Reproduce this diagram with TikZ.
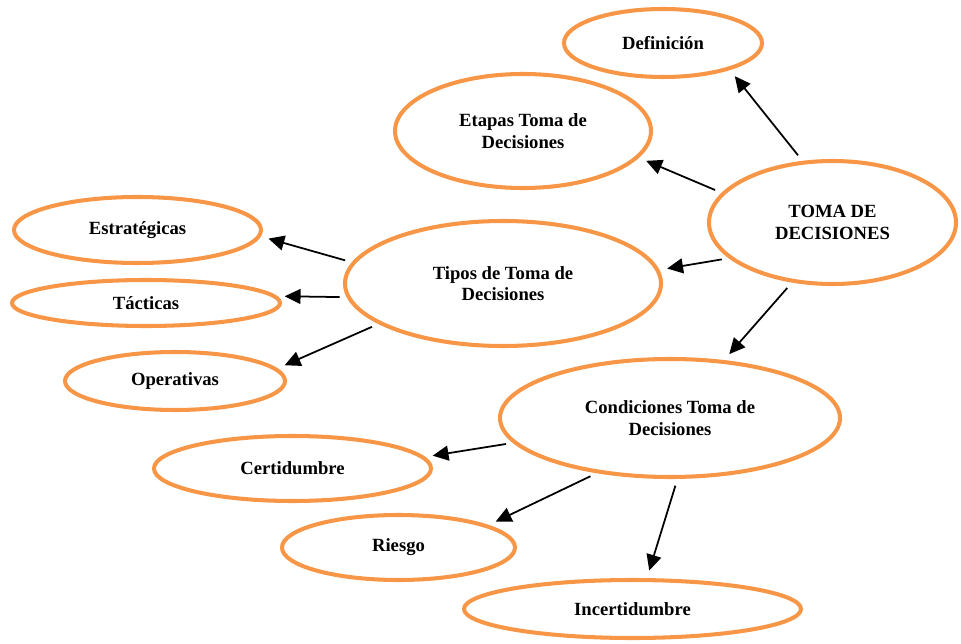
\documentclass[tikz,border=0pt]{standalone}
\usepackage{fontspec}
\setmainfont{Liberation Serif}
\usetikzlibrary{shapes.geometric,arrows.meta}
\definecolor{naranja}{RGB}{247,150,70}

\begin{document}
\begin{tikzpicture}[
    elipse/.style={ellipse, draw=naranja, line width=2.3pt, inner sep=0pt,
      align=center, font=\fontsize{10.6}{12.2}\selectfont\bfseries},
    flecha/.style={-{Triangle[length=9pt,width=8.5pt]}, line width=1pt,
      shorten <=4pt, shorten >=4.5pt}
  ]
  \useasboundingbox (0,0) rectangle (19.22,-12.88);

  \node[elipse, minimum width=4.94cm, minimum height=2.46cm] (toma) at (16.65,-4.45) {TOMA DE\\DECISIONES};
  \node[elipse, minimum width=3.96cm, minimum height=1.36cm] (defin) at (13.26,-0.86) {Definición};
  \node[elipse, minimum width=5.12cm, minimum height=2.28cm] (etapas) at (10.46,-2.62) {Etapas Toma de\\Decisiones};
  \node[elipse, minimum width=6.32cm, minimum height=2.5cm] (tipos) at (10.06,-5.67) {Tipos de Toma de\\Decisiones};
  \node[elipse, minimum width=6.8cm, minimum height=2.36cm] (cond) at (13.4,-8.36) {Condiciones Toma de\\Decisiones};

  % tipos
  \node[elipse, minimum width=4.94cm, minimum height=1.32cm] (estrat) at (2.75,-4.6) {Estratégicas};
  \node[elipse, minimum width=5.36cm, minimum height=0.92cm] (tact) at (2.92,-6.06) {Tácticas};
  \node[elipse, minimum width=4.4cm, minimum height=1.16cm] (oper) at (3.5,-7.62) {Operativas};

  % condiciones
  \node[elipse, minimum width=5.54cm, minimum height=1.3cm] (certi) at (5.85,-9.37) {Certidumbre};
  \node[elipse, minimum width=4.66cm, minimum height=1.3cm] (riesgo) at (7.97,-10.95) {Riesgo};
  \node[elipse, minimum width=6.74cm, minimum height=1.16cm] (incert) at (12.65,-12.18) {Incertidumbre};

  \foreach \a/\b in {toma.116/defin.-22, toma.165/etapas.-13, toma.199/tipos.5.5,
      toma.236/cond.47, tipos.172.5/estrat.-3.5, tipos.185.5/tact.3,
      tipos.198.4/oper.7, cond.189/certi.5, cond.217/riesgo.14, cond.-83/incert.65}
    \draw[flecha] (\a) -- (\b);
\end{tikzpicture}
\end{document}
